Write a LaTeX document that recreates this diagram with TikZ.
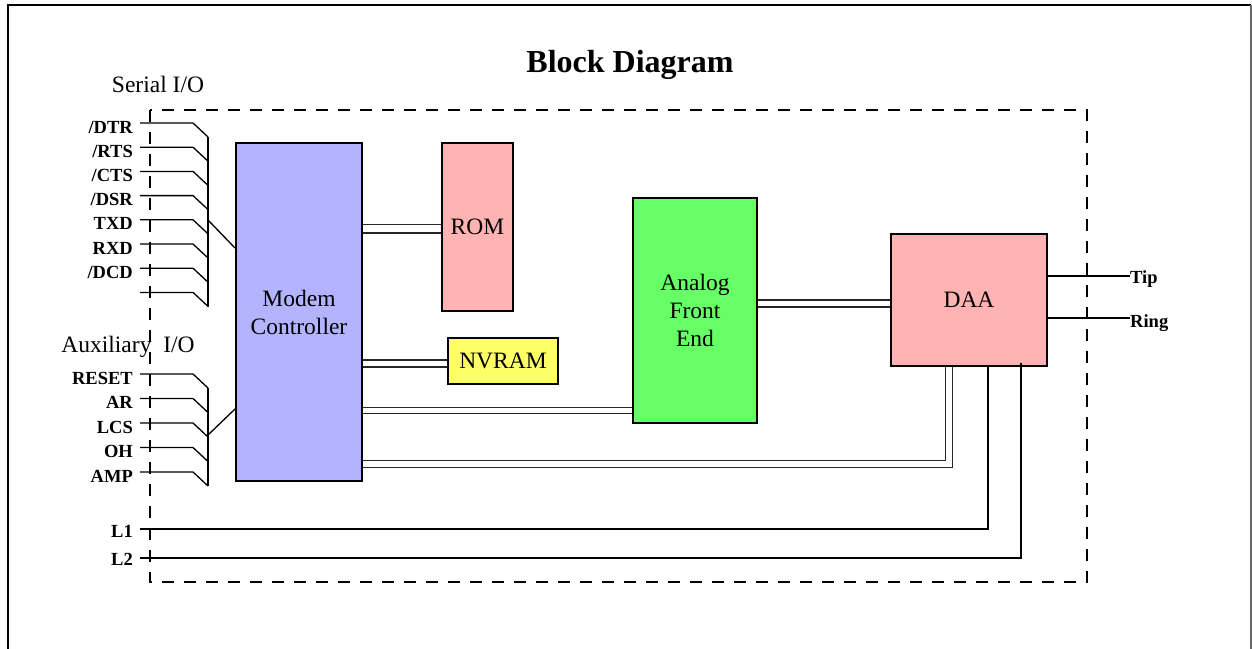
\documentclass[tikz,border=0pt]{standalone}
\usepackage{fontspec}
\setmainfont{Liberation Serif}
\begin{document}
\begin{tikzpicture}[x=1pt,y=-1pt,
  block/.style={draw=black,line width=2pt,inner sep=0pt,align=center,
    font=\fontsize{23.5}{28}\selectfont},
  sig/.style={inner sep=0pt,font=\fontsize{18.5}{20}\selectfont\bfseries},
  wire/.style={line width=1.3pt,line cap=butt},
  thick wire/.style={line width=2.8pt},
  bus/.style={draw=black!85,line width=1.2pt,double=white,double distance=#1},
  bus/.default=5.8pt,
  frameline/.style={line width=2.6pt},
  boundary/.style={line width=2.6pt,dash pattern=on 12pt off 10pt}
]
\useasboundingbox (0,0) rectangle (1252,648);
% outer frame
\draw[frameline] (8,660) -- (8,5) -- (1251,5);
\draw[line width=2pt,draw=black!60] (1251,5) -- (1251,660);
% title
\node[anchor=base,font=\fontsize{32}{34}\selectfont\bfseries] (title) at (630,72) {Block Diagram};
% dashed boundary
\draw[boundary] (150,110) rectangle (1087,582);
% group labels
\node[anchor=base,font=\fontsize{23.5}{26}\selectfont] (serlab) at (158,92) {Serial I/O};
\node[anchor=base,font=\fontsize{23.5}{26}\selectfont] (auxlab) at (128,352) {Auxiliary\ \ I/O};
% blocks
\node[block,fill={rgb,255:red,179;green,179;blue,255},minimum width=126pt,minimum height=338pt] (ctrl) at (299,312) {Modem\\Controller};
\node[block,fill={rgb,255:red,255;green,179;blue,179},minimum width=71pt,minimum height=168pt] (rom) at (477.5,227) {ROM};
\node[block,fill={rgb,255:red,255;green,255;blue,102},minimum width=110pt,minimum height=46pt] (nvram) at (503,361) {NVRAM};
\node[block,fill={rgb,255:red,102;green,255;blue,102},minimum width=124pt,minimum height=225pt] (afe) at (695,310.5) {Analog\\Front\\End};
\node[block,line width=1.4pt,fill={rgb,255:red,255;green,179;blue,179},minimum width=156pt,minimum height=132pt] (daa) at (969,300) {DAA};
% buses
\draw[bus=7.6pt] (ctrl.east |- 0,228.5) -- (rom.west |- 0,228.5);
\draw[bus] (ctrl.east |- 0,363.5) -- (nvram.west |- 0,363.5);
\draw[bus=5.4pt] (ctrl.east |- 0,410.5) -- (afe.west |- 0,410.5);
\draw[bus] (afe.east |- 0,303.5) -- (daa.west |- 0,303.5);
\draw[bus=5.4pt] (ctrl.east |- 0,464) -| (949,0 |- daa.south);
% serial I/O
\foreach \lab [count=\i from 0] in {/DTR,/RTS,/CTS,/DSR,TXD,RXD,/DCD,{}} {
  \pgfmathsetmacro\yy{123+24.2*\i}
  \node[sig,anchor=base east] (s\i) at (133,\yy+10) {\lab};
  \coordinate (sp\i) at (140,\yy);
  \draw[wire] (sp\i) -- ++(53,0) -- ++(15,14);
}
\coordinate (sbt) at (208,137);
\coordinate (sbb) at (208,307);
\draw[wire] (sbt) -- (sbb);
\coordinate (sbj) at (208,220);
\draw[wire] (sbj) -- (ctrl.west |- 0,248);
% auxiliary I/O
\foreach \lab [count=\i from 0] in {RESET,AR,LCS,OH,AMP} {
  \pgfmathsetmacro\yy{374+24.5*\i}
  \node[sig,anchor=base east] (a\i) at (133,\yy+10) {\lab};
  \coordinate (ap\i) at (140,\yy);
  \draw[wire] (ap\i) -- ++(53,0) -- ++(15,14);
}
\coordinate (abt) at (208,388);
\coordinate (abb) at (208,486);
\draw[wire] (abt) -- (abb);
\coordinate (abj) at (208,435);
\draw[wire] (abj) -- (ctrl.west |- 0,409);
% L1 / L2
\node[sig,anchor=base east] (l1) at (133,537) {L1};
\node[sig,anchor=base east] (l2) at (133,565) {L2};
\coordinate (l1p) at (140,529);
\coordinate (l2p) at (140,558);
\draw[thick wire] (l1p) -| (988,0 |- daa.south);
\draw[thick wire] (l2p) -| (1021,363);
% Tip / Ring
\node[sig,anchor=base west] (tip) at (1130,283) {Tip};
\node[sig,anchor=base west] (ring) at (1130,327) {Ring};
\draw[wire] (daa.east |- 0,276) -- (tip.west |- 0,276);
\draw[wire] (daa.east |- 0,318) -- (ring.west |- 0,318);
\end{tikzpicture}
\end{document}
